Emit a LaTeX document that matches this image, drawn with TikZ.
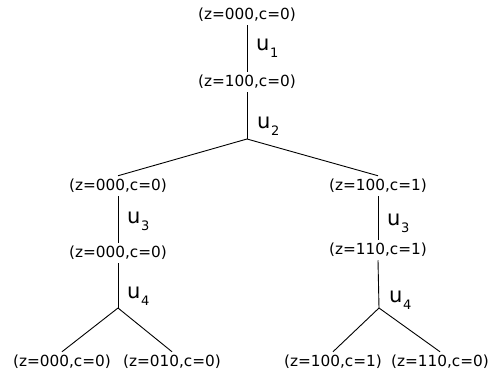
\documentclass[tikz,border=0pt]{standalone}
\usepackage{fontspec}
\setmainfont{DejaVu Sans}
\newcommand\ulabel[1]{u\kern0.5pt\raisebox{-7pt}{\fontsize{13}{15}\selectfont #1}}
\begin{document}
\begin{tikzpicture}[x=1pt,y=-1pt,
  state/.style={inner xsep=0pt, inner ysep=3.2pt, font=\fontsize{15.3}{18}\selectfont, text height=11.7pt, text depth=2pt},
  ulab/.style={anchor=base west, inner sep=0pt, font=\fontsize{21}{24}\selectfont},
  conn/.style={line width=0.9pt}]
\useasboundingbox (0,0) rectangle (492,372);
% nodes
\node[state] (n0) at (247,15) {(z=000,c=0)};
\node[state] (n1) at (247,82) {(z=100,c=0)};
\coordinate (b0) at (247,139);
\node[state] (n2) at (118,186) {(z=000,c=0)};
\node[state] (n3) at (378,186) {(z=100,c=1)};
\node[state] (n4) at (118,253) {(z=000,c=0)};
\node[state] (n5) at (378,250) {(z=110,c=1)};
\coordinate (b1) at (118,308);
\coordinate (b2) at (379,308);
\node[state] (n6) at (62,362) {(z=000,c=0)};
\node[state] (n7) at (172,362) {(z=010,c=0)};
\node[state] (n8) at (333,362) {(z=100,c=1)};
\node[state] (n9) at (440,362) {(z=110,c=0)};
% connectors
\draw[conn] (n0.south) -- (n1.north);
\draw[conn] (n1.south) -- (b0);
\draw[conn] (b0) -- (n2.north);
\draw[conn] (b0) -- (n3.north);
\draw[conn] (n2.south) -- (n4.north);
\draw[conn] (n4.south) -- (b1);
\draw[conn] (b1) -- (n6.north);
\draw[conn] (b1) -- (n7.north);
\draw[conn] (n3.south) -- (n5.north);
\draw[conn] (n5.south) -- (b2);
\draw[conn] (b2) -- (n8.north);
\draw[conn] (b2) -- (n9.north);
% u labels
\node[ulab] (u1) at (256,50.7) {\ulabel{1}};
\node[ulab] (u2) at (257,128) {\ulabel{2}};
\node[ulab] (u3l) at (127,223) {\ulabel{3}};
\node[ulab] (u4l) at (127,298) {\ulabel{4}};
\node[ulab] (u3r) at (387,225) {\ulabel{3}};
\node[ulab] (u4r) at (389,302) {\ulabel{4}};
\end{tikzpicture}
\end{document}
